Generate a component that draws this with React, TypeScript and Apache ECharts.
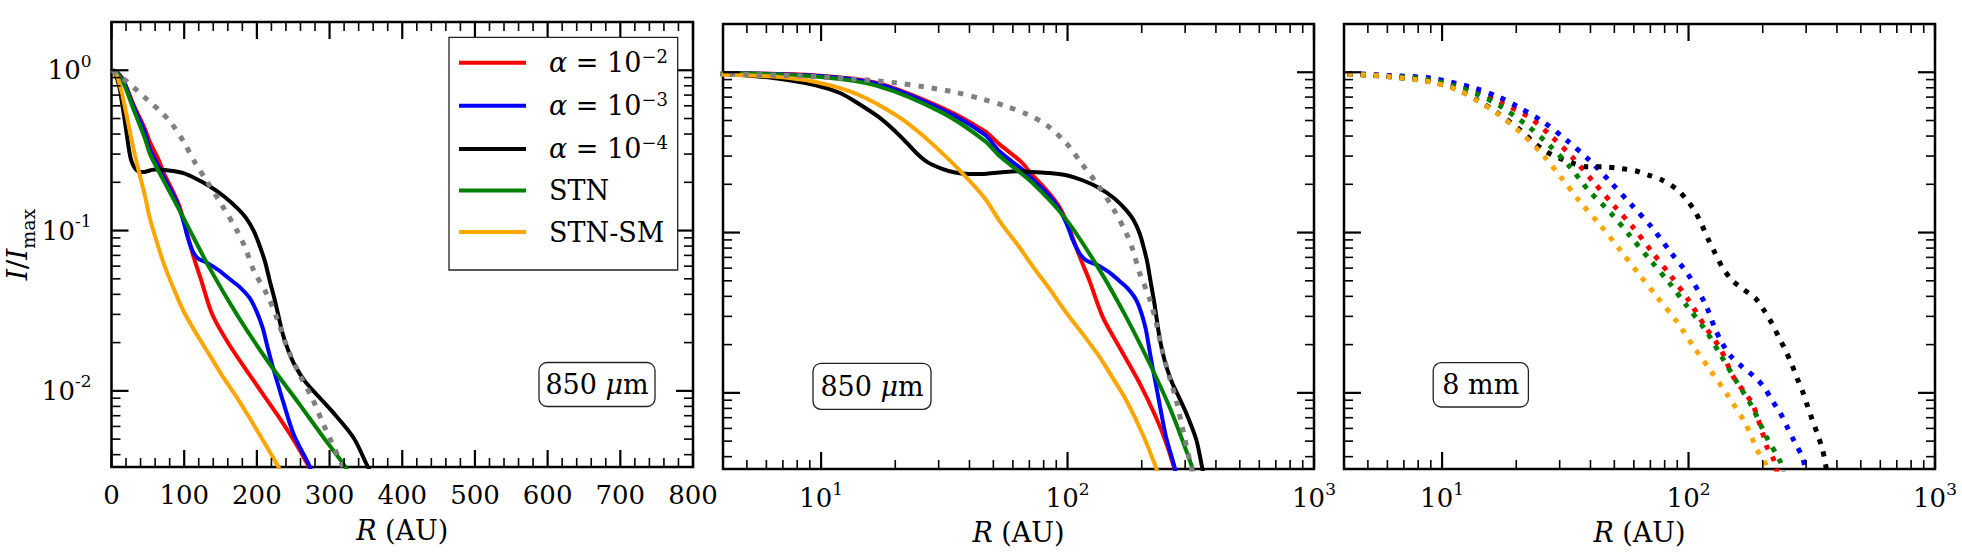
import { useEffect, useRef } from 'react';
import * as echarts from 'echarts';

const SERIF = 'DejaVu Serif';

// Radial profiles at 850 μm, pairs of [R (AU), I / Imax]
const alpha2At850: [number, number][] = [
  [2, 1.0], [4, 0.99], [9.5, 0.955], [17, 0.855], [31, 0.6], [46, 0.43], [53, 0.355], [65, 0.275],
  [72, 0.228], [82, 0.185], [92.6, 0.145], [100, 0.113], [108, 0.082], [115, 0.064], [122.5, 0.0505],
  [139, 0.0297], [162, 0.0194], [196, 0.0115], [228, 0.0071], [251, 0.0049], [271, 0.0034], [280, 0.0028],
];
const alpha3At850: [number, number][] = [
  [2, 1.0], [4, 0.99], [9.5, 0.95], [17, 0.845], [31, 0.585], [46, 0.41], [53, 0.32], [65, 0.25],
  [72, 0.215], [82, 0.178], [92.6, 0.14], [100, 0.11], [105, 0.09], [112, 0.074], [119, 0.067],
  [130, 0.0635], [139, 0.06], [150, 0.0555], [162, 0.05], [175, 0.045], [190, 0.038], [200, 0.031],
  [208, 0.0247], [215, 0.0185], [221, 0.0146], [229, 0.011], [236, 0.0086], [251, 0.0053], [271, 0.0035],
  [280, 0.0028],
];
const alpha4At850: [number, number][] = [
  [2, 1.0], [4, 0.975], [6.4, 0.92], [9.5, 0.83], [12, 0.74], [14, 0.645], [17, 0.53], [19.3, 0.45],
  [22, 0.37], [24.3, 0.315], [27, 0.275], [31, 0.25], [35, 0.237], [40, 0.232], [47, 0.233], [56, 0.239],
  [65, 0.241], [72, 0.239], [85, 0.235], [99, 0.228], [115, 0.212], [135, 0.189], [155, 0.163],
  [173, 0.138], [185, 0.12], [196, 0.099], [204, 0.08], [211, 0.0645], [218, 0.048], [225, 0.0363],
  [236, 0.0223], [244, 0.0175], [252, 0.0145], [266, 0.0115], [285, 0.0092], [303, 0.0075],
  [333, 0.0051], [352, 0.0034], [358, 0.003],
];
const stnAt850: [number, number][] = [
  [2, 1.0], [4, 0.99], [9.5, 0.94], [17, 0.82], [31, 0.56], [46, 0.375], [53, 0.3], [72, 0.204],
  [99, 0.12], [135, 0.0583], [173, 0.0297], [215, 0.0153], [259, 0.0082], [292, 0.0051], [321, 0.0034],
  [330, 0.0029],
];
const stnSmAt850: [number, number][] = [
  [2, 1.0], [4, 0.966], [6.4, 0.94], [9.5, 0.87], [14, 0.73], [20.7, 0.526], [26, 0.4], [31, 0.313],
  [36, 0.25], [46, 0.165], [53, 0.118], [63, 0.083], [72, 0.062], [85, 0.044], [99, 0.0315],
  [116, 0.023], [135, 0.0167], [152, 0.0125], [173, 0.009], [201, 0.0056], [229, 0.0034], [235, 0.003],
];
const observedAt850: [number, number][] = [
  [2, 1.0], [4, 0.974], [8, 0.95], [13.5, 0.908], [20, 0.86], [26.4, 0.809], [35, 0.75], [45.8, 0.676],
  [56, 0.615], [68, 0.55], [82, 0.47], [99, 0.36], [115, 0.265], [131, 0.204], [152, 0.144],
  [173, 0.0993], [184, 0.078], [196, 0.056], [215, 0.039], [229, 0.0273], [242, 0.0185], [259, 0.01256],
  [276, 0.00902], [292, 0.00612], [318, 0.0034], [325, 0.0029],
];

// Radial profiles at 8 mm
const alpha2At8mm: [number, number][] = [
  [2, 1.0], [4, 0.982], [6, 0.95], [9, 0.905], [13.6, 0.765], [17, 0.655], [22.4, 0.528], [27.9, 0.396],
  [33.6, 0.297], [41.1, 0.2075], [49.6, 0.1484], [59.8, 0.107], [71, 0.0759], [84.3, 0.0543], [100, 0.0379],
  [117, 0.0258], [135, 0.0187], [152, 0.0126], [181, 0.0086], [199, 0.00572], [208, 0.0046], [222, 0.0038],
  [230, 0.003],
];
const alpha3At8mm: [number, number][] = [
  [2, 1.0], [4, 0.985], [6, 0.955], [9, 0.918], [13.6, 0.795], [17, 0.7], [20.1, 0.615], [25.7, 0.491],
  [32.2, 0.374], [39.8, 0.281], [48.1, 0.2075], [58.9, 0.148], [71, 0.1077], [84.3, 0.0759], [100, 0.0543],
  [117, 0.0358], [128, 0.0252], [137, 0.0204], [148, 0.017], [165, 0.01455], [184, 0.0127], [202, 0.0109],
  [218, 0.009], [236, 0.00745], [251, 0.00615], [267, 0.00508], [289, 0.004], [298, 0.00338], [305, 0.003],
];
const alpha4At8mm: [number, number][] = [
  [2, 1.0], [4, 0.975], [6, 0.94], [9, 0.872], [11.7, 0.772], [14, 0.665], [16.6, 0.565], [21, 0.43],
  [23.4, 0.368], [26.5, 0.319], [30.1, 0.29], [34.1, 0.27], [38.6, 0.257], [45.1, 0.257], [52.8, 0.251],
  [60.7, 0.243], [68.7, 0.2285], [78, 0.213], [89.7, 0.186], [98.5, 0.1595], [106.4, 0.135], [113.4, 0.111],
  [120.5, 0.09], [128.4, 0.074], [136.8, 0.0612], [150, 0.0505], [167, 0.0442], [187, 0.0388], [202, 0.0329],
  [218, 0.0271], [232, 0.0224], [247, 0.0185], [263, 0.0149], [276, 0.0123], [289, 0.0104], [303, 0.0084],
  [317.5, 0.0068], [332.6, 0.0056], [348.5, 0.0045], [359.5, 0.0036], [366, 0.003],
];
const stnAt8mm: [number, number][] = [
  [2, 1.0], [4, 0.98], [6, 0.945], [9, 0.895], [13.6, 0.741], [17.2, 0.615], [22, 0.469], [27, 0.355],
  [32.8, 0.26], [39.2, 0.184], [48.1, 0.1336], [58, 0.095], [69.9, 0.0673], [82.9, 0.0493], [98.5, 0.0348],
  [117, 0.0247], [135, 0.0172], [157, 0.0117], [181, 0.0082], [205, 0.00546], [236, 0.0037], [242, 0.0032],
];
const stnSmAt8mm: [number, number][] = [
  [2, 1.0], [4, 0.975], [6, 0.94], [9, 0.87], [11.7, 0.77], [14, 0.66], [16.6, 0.56], [21, 0.416],
  [25.7, 0.304], [30.6, 0.218], [36.3, 0.1556], [43.8, 0.1114], [52.8, 0.0778], [62.6, 0.0556],
  [74.4, 0.0398], [89.7, 0.0278], [104.8, 0.0194], [122.5, 0.01387], [145.4, 0.00946], [170, 0.00645],
  [190, 0.0044], [205, 0.00363], [210, 0.003],
];

const modelNames = ['α = 10^−2', 'α = 10^−3', 'α = 10^−4', 'STN', 'STN-SM'];
const modelColors = ['#ff0000', '#0000ff', '#000000', '#008000', '#ffa500'];
const observedColor = '#808080';
const profiles850 = [alpha2At850, alpha3At850, alpha4At850, stnAt850, stnSmAt850];
const profiles8mm = [alpha2At8mm, alpha3At8mm, alpha4At8mm, stnAt8mm, stnSmAt8mm];

// Tick positions
const linearRTicks = [0, 100, 200, 300, 400, 500, 600, 700, 800];
const linearRMinorTicks = [
  20, 40, 60, 80, 120, 140, 160, 180, 220, 240, 260, 280, 320, 340, 360, 380, 420, 440, 460, 480,
  520, 540, 560, 580, 620, 640, 660, 680, 720, 740, 760, 780,
];
const logRTicks = [10, 100, 1000];
const logRMinorTicks = [5, 6, 7, 8, 9, 20, 30, 40, 50, 60, 70, 80, 90, 200, 300, 400, 500, 600, 700, 800, 900];
const intensityTicks = [0.01, 0.1, 1];
const intensityMinorTicks = [
  0.004, 0.005, 0.006, 0.007, 0.008, 0.009, 0.02, 0.03, 0.04, 0.05, 0.06, 0.07, 0.08, 0.09,
  0.2, 0.3, 0.4, 0.5, 0.6, 0.7, 0.8, 0.9,
];
const linearRRange = [0, 800];
const logRRange = [4, 1000];
const intensityRange = [0.00335, 2];
const bandLabels = ['850 μm', '850 μm', '8 mm'];

const grids = [
  { left: 111.5, top: 22, width: 581.5, height: 445 },
  { left: 723, top: 24, width: 591, height: 445 },
  { left: 1344, top: 24, width: 591, height: 445 },
];

const bandBoxes = [
  { x: 539, y: 362.5, width: 116, height: 44 },
  { x: 813, y: 363.3, width: 118, height: 46 },
  { x: 1433.2, y: 362.6, width: 95.2, height: 44.4 },
];

const MAJOR_TICK = { len: 17, width: 2.2 };
const MINOR_TICK = { len: 9, width: 1.6 };

const powerRich = {
  b: { fontFamily: SERIF, fontSize: 26, color: '#000', lineHeight: 36 },
  s: { fontFamily: SERIF, fontSize: 17, color: '#000', verticalAlign: 'top', lineHeight: 18 },
};
const powerLabel = (v: number) => `{b|10}{s|${Math.round(Math.log10(v))}}`;

function axis(gridIndex: number, type: 'value' | 'log', range: number[], position: string, label: any, extra: any = {}) {
  const a: any = {
    gridIndex,
    type,
    position,
    min: range[0],
    max: range[1],
    axisLine: { show: false },
    axisTick: { show: false },
    splitLine: { show: false },
    minorTick: { show: false },
    minorSplitLine: { show: false },
    axisLabel: label,
    silent: true,
    ...extra,
  };
  if (type === 'log') a.logBase = 10;
  return a;
}

const xName = {
  name: '{i|R}{t| (AU)}',
  nameLocation: 'middle',
  nameGap: 46,
  nameTextStyle: {
    rich: {
      i: { fontFamily: SERIF, fontStyle: 'italic', fontSize: 27, color: '#000', lineHeight: 34 },
      t: { fontFamily: SERIF, fontSize: 27, color: '#000', lineHeight: 34 },
    },
  },
};

const yName = {
  name: '{i|I}{t|/}{i|I}{sub|max}',
  nameLocation: 'middle',
  nameRotate: 90,
  nameGap: 70,
  nameTextStyle: {
    rich: {
      i: { fontFamily: SERIF, fontStyle: 'italic', fontSize: 28, color: '#000', lineHeight: 40 },
      t: { fontFamily: SERIF, fontSize: 28, color: '#000', lineHeight: 40 },
      sub: { fontFamily: SERIF, fontSize: 19, color: '#000', verticalAlign: 'bottom', lineHeight: 24 },
    },
  },
};

const linearLabel = {
  show: true,
  customValues: linearRTicks,
  margin: 14,
  formatter: (v: number) => `{p|${v}}`,
  rich: { p: { fontFamily: SERIF, fontSize: 26, color: '#000', lineHeight: 28 } },
};
const logXLabel = {
  show: true,
  customValues: logRTicks,
  margin: 11,
  formatter: powerLabel,
  rich: powerRich,
};
const yLabel = {
  show: true,
  customValues: intensityTicks,
  margin: 20,
  formatter: powerLabel,
  rich: powerRich,
};

// Inward tick marks on all four sides, placed through the axes' own scales
function tickSeries(gridIndex: number, dim: 'x' | 'y', values: number[], tick: { len: number; width: number }) {
  const { len, width } = tick;
  return {
    type: 'custom',
    xAxisIndex: gridIndex,
    yAxisIndex: gridIndex,
    silent: true,
    z: 6,
    clip: false,
    data: values.map((v) => (dim === 'x' ? [v, 1] : [10, v])),
    renderItem: (params: any, api: any) => {
      const cs = params.coordSys;
      const style = { stroke: '#000', lineWidth: width };
      if (dim === 'x') {
        const px = api.coord([api.value(0), 1])[0];
        const bottom = cs.y + cs.height;
        return {
          type: 'group',
          children: [
            { type: 'line', shape: { x1: px, y1: bottom, x2: px, y2: bottom - len }, style },
            { type: 'line', shape: { x1: px, y1: cs.y, x2: px, y2: cs.y + len }, style },
          ],
        };
      }
      const py = api.coord([10, api.value(1)])[1];
      const right = cs.x + cs.width;
      return {
        type: 'group',
        children: [
          { type: 'line', shape: { x1: cs.x, y1: py, x2: cs.x + len, y2: py }, style },
          { type: 'line', shape: { x1: right, y1: py, x2: right - len, y2: py }, style },
        ],
      };
    },
  };
}

function lineSeries(gridIndex: number, name: string, data: [number, number][], color: string, dash: any, width: number, z: number) {
  return {
    type: 'line',
    name,
    data,
    xAxisIndex: gridIndex,
    yAxisIndex: gridIndex,
    symbol: 'none',
    showSymbol: false,
    smooth: 0.3,
    clip: true,
    silent: true,
    z,
    lineStyle: { color, width, type: dash, cap: 'butt' },
    itemStyle: { color },
    emphasis: { disabled: true },
  };
}

function legendText(name: string) {
  const m = name.match(/^α = 10\^(.+)$/);
  if (m) return `{a|α}{t| = 10}{s|${m[1]}}`;
  return `{t|${name}}`;
}

function buildOption() {
  const xAxes = [
    axis(0, 'value', linearRRange, 'bottom', linearLabel, xName),
    axis(1, 'log', logRRange, 'bottom', logXLabel, xName),
    axis(2, 'log', logRRange, 'bottom', logXLabel, xName),
  ];
  const yAxes = [
    axis(0, 'log', intensityRange, 'left', yLabel, yName),
    axis(1, 'log', intensityRange, 'left', { show: false }),
    axis(2, 'log', intensityRange, 'left', { show: false }),
  ];

  const series: any[] = [];
  for (const g of [0, 1]) {
    profiles850.forEach((data, i) => {
      series.push(lineSeries(g, modelNames[i], data, modelColors[i], 'solid', 4, 2));
    });
    series.push(lineSeries(g, 'Observed', observedAt850, observedColor, [5.5, 8], 5, 3));
  }
  profiles8mm.forEach((data, i) => {
    series.push(lineSeries(2, modelNames[i], data, modelColors[i], [5, 8], 5, 2));
  });
  [0, 1, 2].forEach((g) => {
    const xMajor = g === 0 ? linearRTicks : logRTicks;
    const xMinor = g === 0 ? linearRMinorTicks : logRMinorTicks;
    series.push(tickSeries(g, 'x', xMajor, MAJOR_TICK));
    series.push(tickSeries(g, 'x', xMinor, MINOR_TICK));
    series.push(tickSeries(g, 'y', intensityTicks, MAJOR_TICK));
    series.push(tickSeries(g, 'y', intensityMinorTicks, MINOR_TICK));
  });

  const graphic: any[] = [
    {
      type: 'rect',
      z: 7,
      shape: { x: 449, y: 37.3, width: 228.7, height: 232.7 },
      style: { fill: '#fff', stroke: '#222', lineWidth: 1.3 },
    },
  ];
  bandBoxes.forEach((b, i) => {
    const label = bandLabels[i];
    const text = label.includes('μ')
      ? `{n|${label.split(' ')[0]}}{g| }{mu|μ}{n|m}`
      : `{n|${label}}`;
    graphic.push({
      type: 'rect',
      z: 7,
      shape: { x: b.x, y: b.y, width: b.width, height: b.height, r: 8 },
      style: { fill: '#fff', stroke: '#222', lineWidth: 1.3 },
    });
    graphic.push({
      type: 'text',
      z: 8,
      x: b.x + b.width / 2,
      y: b.y + b.height / 2,
      style: {
        text,
        align: 'center',
        verticalAlign: 'middle',
        rich: {
          n: { fontFamily: SERIF, fontSize: 27, fill: '#000', color: '#000' },
          g: { fontFamily: SERIF, fontSize: 27, fill: '#000', color: '#000' },
          mu: { fontFamily: SERIF, fontStyle: 'italic', fontSize: 27, fill: '#000', color: '#000' },
        },
      },
    });
  });

  return {
    animation: false,
    backgroundColor: '#ffffff',
    grid: grids.map((g) => ({
      ...g,
      show: true,
      borderColor: '#000',
      borderWidth: 2.5,
      backgroundColor: 'transparent',
      containLabel: false,
      outerBoundsMode: 'none',
    })),
    xAxis: xAxes,
    yAxis: yAxes,
    legend: {
      show: true,
      z: 10,
      orient: 'vertical',
      left: 459,
      top: 47.7,
      padding: 0,
      itemGap: 14.6,
      itemWidth: 67,
      itemHeight: 4,
      icon: 'rect',
      selectedMode: false,
      data: modelNames,
      formatter: legendText,
      textStyle: {
        color: '#000',
        fontFamily: SERIF,
        fontSize: 27,
        padding: [0, 0, 0, 18],
        rich: {
          a: { fontFamily: SERIF, fontStyle: 'italic', fontSize: 27, color: '#000', lineHeight: 30 },
          t: { fontFamily: SERIF, fontSize: 27, color: '#000', lineHeight: 30 },
          s: { fontFamily: SERIF, fontSize: 18, color: '#000', verticalAlign: 'top', lineHeight: 18 },
        },
      },
    },
    graphic,
    series,
  };
}

export default function App() {
  const ref = useRef<HTMLDivElement>(null);
  useEffect(() => {
    if (!ref.current) return;
    const chart = echarts.init(ref.current, undefined, { renderer: 'svg' });
    chart.setOption(buildOption() as any);
    return () => chart.dispose();
  }, []);
  return (
    <div
      ref={ref}
      style={{ position: 'absolute', left: 0, top: 0, width: 1962, height: 558, background: '#fff' }}
    />
  );
}
